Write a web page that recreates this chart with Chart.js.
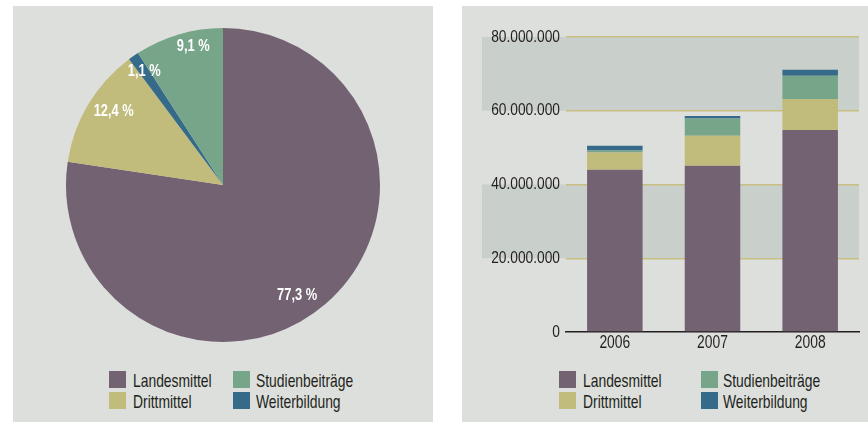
<!DOCTYPE html>
<html>
<head>
<meta charset="utf-8">
<script src="https://cdn.jsdelivr.net/npm/chart.js@4"></script>
<style>
  body { margin: 0; background: #fff; width: 868px; height: 422px; position: relative; overflow: hidden;
         font-family: "Liberation Sans", Arial, sans-serif; }
  .panel { position: absolute; background: #dcdfdb; }
  #left { left: 13px; top: 6px; width: 420px; height: 416px; }
  #right { left: 462px; top: 6px; width: 406px; height: 416px; }
  canvas { position: absolute; }
  .legend { position: absolute; top: 364px; font-size: 18.5px; line-height: 21px; color: #231f20; }
  .item { position: absolute; white-space: nowrap; }
  .item i { position: absolute; left: 0; top: 1px; width: 17px; height: 17px; }
  .item span { position: absolute; transform: scaleX(0.75); transform-origin: 0 0; }
</style>
</head>
<body>
<div class="panel" id="left">
  <canvas id="pie-chart"></canvas>
  <div class="legend" id="pie-legend"></div>
</div>
<div class="panel" id="right">
  <canvas id="bar-chart"></canvas>
  <div class="legend" id="bar-legend"></div>
</div>
<script>
const $ = (id) => document.getElementById(id);

// Anteile (Kreisdiagramm), im Uhrzeigersinn ab 12 Uhr
const pieLabels = ["Landesmittel", "Drittmittel", "Weiterbildung", "Studienbeiträge"];
const pieValues = [77.3, 12.4, 1.1, 9.1];

// Entwicklung 2006–2008 (gestapelte Säulen)
const years = ["2006", "2007", "2008"];
const landesmittel = [44000000, 45100000, 54800000];
const drittmittel = [4700000, 8100000, 8400000];
const studienbeitraege = [500000, 4700000, 6300000];
const weiterbildung = [1300000, 700000, 1600000];
const yTicks = [0, 20000000, 40000000, 60000000, 80000000];

const COLORS = {
  Landesmittel: "#736272",
  Drittmittel: "#c1bc7b",
  "Studienbeiträge": "#77a589",
  Weiterbildung: "#356b89",
};
const FONT = "'Liberation Sans', Arial, sans-serif";
const INK = "#231f20";

function formatDots(n) {
  return String(n).replace(/\B(?=(\d{3})+(?!\d))/g, ".");
}

// schmale Schrift wie im Original: horizontal gestaucht
function narrowText(ctx, text, x, y, align, sx) {
  ctx.save();
  ctx.translate(x, y);
  ctx.scale(sx, 1);
  ctx.textAlign = align;
  ctx.fillText(text, 0, 0);
  ctx.restore();
}

function renderLegend(el, cols) {
  // cols: [squareX, textX] relative to panel; two columns, two rows
  const order = [["Landesmittel", "Drittmittel"], ["Studienbeiträge", "Weiterbildung"]];
  el.innerHTML = "";
  order.forEach((names, c) => {
    names.forEach((name, r) => {
      const d = document.createElement("div");
      d.className = "item";
      d.style.left = cols[c][0] + "px";
      d.style.top = r * 21 + "px";
      d.innerHTML = `<i style="background:${COLORS[name]}"></i><span style="left:${cols[c][1] - cols[c][0]}px">${name}</span>`;
      el.appendChild(d);
    });
  });
}

// Prozentlabels in den Segmenten
const labelPos = { along: [0.525, 0.57, 0.5, 0.63], radius: [0.85, 0.84, 0.88, 0.9] };
const pieLabelPlugin = {
  id: "pieLabels",
  afterDatasetsDraw(chart) {
    const ctx = chart.ctx;
    const arcs = chart.getDatasetMeta(0).data;
    ctx.save();
    ctx.fillStyle = "#ffffff";
    ctx.font = `bold 16.5px ${FONT}`;
    ctx.textBaseline = "middle";
    arcs.forEach((arc, i) => {
      const a = arc.startAngle + (arc.endAngle - arc.startAngle) * labelPos.along[i];
      const r = arc.outerRadius * labelPos.radius[i];
      const txt = pieValues[i].toFixed(1).replace(".", ",") + " %";
      narrowText(ctx, txt, arc.x + Math.cos(a) * r, arc.y + Math.sin(a) * r, "center", 0.78);
    });
    ctx.restore();
  },
};

// Hinterlegte Bänder zwischen jeder zweiten Gitterlinie
const bandPlugin = {
  id: "bands",
  beforeDraw(chart) {
    const y = chart.scales.y;
    const ctx = chart.ctx;
    const left = 20;
    ctx.save();
    ctx.fillStyle = "#c9cfca";
    for (let i = 1; i < yTicks.length - 1; i += 2) {
      const top = y.getPixelForValue(yTicks[i + 1]);
      const bottom = y.getPixelForValue(yTicks[i]);
      ctx.fillRect(left, top, chart.chartArea.right - left, bottom - top);
    }
    ctx.restore();
  },
};

// Achsenbeschriftung in schmaler Schrift
const axisLabelPlugin = {
  id: "axisLabels",
  afterDraw(chart) {
    const { x, y } = chart.scales;
    const ctx = chart.ctx;
    ctx.save();
    ctx.fillStyle = INK;
    ctx.textBaseline = "middle";
    ctx.font = `17.2px ${FONT}`;
    yTicks.forEach((v) => {
      narrowText(ctx, formatDots(v), chart.chartArea.left - 6, y.getPixelForValue(v), "right", 0.8);
    });
    ctx.font = `18.5px ${FONT}`;
    years.forEach((label, i) => {
      narrowText(ctx, label, x.getPixelForTick(i), chart.chartArea.bottom + 11, "center", 0.75);
    });
    ctx.restore();
  },
};

function renderPie() {
  const canvas = $("pie-chart");
  canvas.style.left = "40px";
  canvas.style.top = "9px";
  canvas.width = 340;
  canvas.height = 340;
  new Chart(canvas.getContext("2d"), {
    type: "pie",
    data: {
      labels: pieLabels,
      datasets: [{
        data: pieValues,
        backgroundColor: pieLabels.map((l) => COLORS[l]),
        borderWidth: 0,
      }],
    },
    options: {
      responsive: false,
      animation: false,
      layout: { padding: 13 },
      plugins: { legend: { display: false }, tooltip: { enabled: false } },
    },
    plugins: [pieLabelPlugin],
  });
}

function renderBars() {
  const canvas = $("bar-chart");
  canvas.style.left = "0px";
  canvas.style.top = "0px";
  canvas.width = 406;
  canvas.height = 360;
  const series = [
    ["Landesmittel", landesmittel],
    ["Drittmittel", drittmittel],
    ["Studienbeiträge", studienbeitraege],
    ["Weiterbildung", weiterbildung],
  ];
  new Chart(canvas.getContext("2d"), {
    type: "bar",
    data: {
      labels: years,
      datasets: series.map(([name, data]) => ({
        label: name,
        data,
        backgroundColor: COLORS[name],
        borderWidth: 0,
        categoryPercentage: 0.98,
        barPercentage: 0.58,
      })),
    },
    options: {
      responsive: false,
      animation: false,
      layout: { padding: { top: 31, right: 9, left: 0, bottom: 0 } },
      scales: {
        x: {
          stacked: true,
          grid: { display: false },
          border: { display: true, color: INK, width: 1.5 },
          ticks: { display: false },
          afterFit: (s) => { s.height = 34; },
        },
        y: {
          stacked: true,
          min: 0,
          max: 80000000,
          afterBuildTicks: (s) => { s.ticks = yTicks.map((v) => ({ value: v })); },
          grid: {
            drawTicks: false,
            color: (c) => (c.tick && c.tick.value === 0 ? "rgba(0,0,0,0)" : "#c8bf80"),
            lineWidth: 1.5,
          },
          border: { display: false },
          ticks: { display: false },
          afterFit: (s) => { s.width = 104; },
        },
      },
      plugins: { legend: { display: false }, tooltip: { enabled: false } },
    },
    plugins: [bandPlugin, axisLabelPlugin],
  });
}

renderPie();
renderBars();
renderLegend($("pie-legend"), [[96, 120], [220, 243]]);
renderLegend($("bar-legend"), [[97, 121], [239, 261]]);
</script>
</body>
</html>
